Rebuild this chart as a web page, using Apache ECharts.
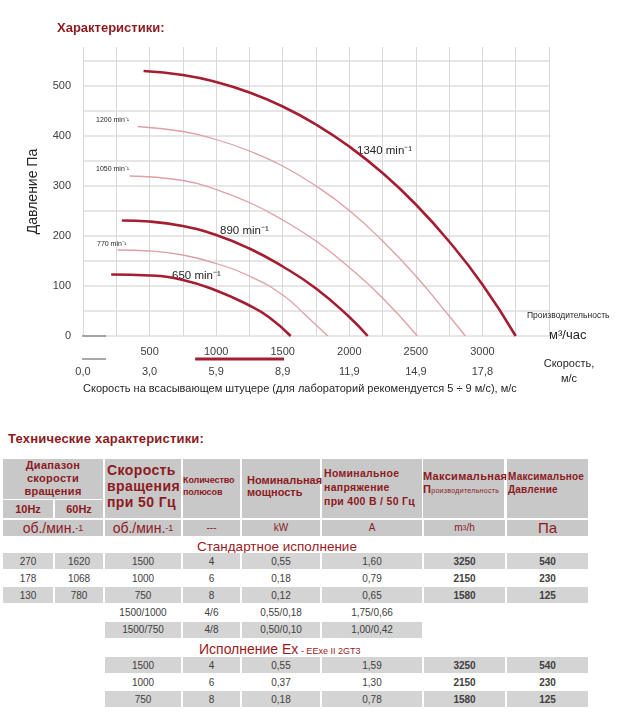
<!DOCTYPE html>
<html><head><meta charset="utf-8">
<script src="https://cdn.jsdelivr.net/npm/echarts@6/dist/echarts.min.js"></script>
<style>
html,body{margin:0;padding:0;background:#fff;width:640px;height:724px;overflow:hidden;font-family:"Liberation Sans",Arial,sans-serif}
#chart{position:absolute;left:0;top:0;width:640px;height:400px}
.c{position:absolute;box-sizing:border-box;overflow:visible;white-space:nowrap}
.t{position:absolute;white-space:nowrap}
</style>
</head><body>
<div id="chart"></div>
<div id="tbl"></div>
<script>
// ---------- chart data ----------
const flowLabels = [500, 1000, 1500, 2000, 2500, 3000];
const speedLabels = ['0,0', '3,0', '5,9', '8,9', '11,9', '14,9', '17,8'];
const recommendedFlow = [842, 1510]; // 5 ÷ 9 m/s

const q1340 = [455, 750, 1000, 1250, 1500, 1750, 2000, 2250, 2500, 2750, 3000, 3250];
const p1340 = [530, 522, 508, 487, 459, 423, 379, 326, 263, 189, 103, 0];
const q1200 = [410, 750, 1000, 1250, 1500, 1750, 2000, 2250, 2500, 2750, 2872];
const p1200 = [419, 409, 393, 370, 340, 300, 251, 190, 120, 40, 0];
const q1050 = [350, 750, 1000, 1250, 1500, 1750, 2000, 2250, 2512];
const p1050 = [320, 311, 293, 267, 232, 190, 137, 76, 0];
const q890 = [292, 500, 750, 1000, 1250, 1500, 1750, 2000, 2138];
const p890 = [231, 229, 220, 202, 175, 139, 95, 38, 0];
const q770 = [260, 500, 750, 1000, 1250, 1500, 1670, 1838];
const p770 = [172, 170, 162, 145, 120, 82, 42, 0];
const q650 = [212, 500, 750, 1000, 1250, 1400, 1560];
const p650 = [123, 121, 112, 91, 61, 37, 0];

// ---------- table data ----------
const stdRange10 = ['270', '178', '130'];
const stdRange60 = ['1620', '1068', '780'];
const stdSpeed = ['1500', '1000', '750', '1500/1000', '1500/750'];
const stdPoles = ['4', '6', '8', '4/6', '4/8'];
const stdPower = ['0,55', '0,18', '0,12', '0,55/0,18', '0,50/0,10'];
const stdCurrent = ['1,60', '0,79', '0,65', '1,75/0,66', '1,00/0,42'];
const stdFlow = ['3250', '2150', '1580'];
const stdPress = ['540', '230', '125'];
const exSpeed = ['1500', '1000', '750'];
const exPoles = ['4', '6', '8'];
const exPower = ['0,55', '0,37', '0,18'];
const exCurrent = ['1,59', '1,30', '0,78'];
const exFlow = ['3250', '2150', '1580'];
const exPress = ['540', '230', '125'];

const THICK = '#A51D31', THIN = '#DE9FA5', RED = '#8C1A1E', TXT = '#404040';
const FONT = '"Liberation Sans", Arial, sans-serif';

function pairs(q, p) { return q.map((v, i) => [v, p[i]]); }
const curves = [
  { q: q1200, p: p1200, c: THIN, w: 1.3 },
  { q: q1050, p: p1050, c: THIN, w: 1.3 },
  { q: q770, p: p770, c: THIN, w: 1.3 },
  { q: q1340, p: p1340, c: THICK, w: 2.6 },
  { q: q890, p: p890, c: THICK, w: 2.6 },
  { q: q650, p: p650, c: THICK, w: 2.6 }
];

const chart = echarts.init(document.getElementById('chart'));
chart.setOption({
  animation: false,
  grid: { left: 83, top: 47, width: 466, height: 289 },
  xAxis: [{
    type: 'value', min: 0, max: 3500, interval: 250,
    axisLine: { show: false }, axisTick: { show: false },
    axisLabel: { formatter: v => flowLabels.includes(v) ? String(v) : '', margin: 10, color: TXT, fontSize: 11, fontFamily: FONT },
    splitLine: { show: true, lineStyle: { color: '#d9d9d9', width: 1 } }
  }, {
    type: 'value', min: 0, max: 3500, interval: 500, position: 'bottom', offset: 20,
    axisLine: { show: false }, axisTick: { show: false },
    axisLabel: { formatter: v => speedLabels[v / 500] || '', margin: 10, color: TXT, fontSize: 11, fontFamily: FONT },
    splitLine: { show: false }
  }],
  yAxis: {
    type: 'value', min: 0, max: 578, interval: 50,
    name: 'Давление Па', nameLocation: 'middle', nameGap: 43, nameRotate: 90,
    nameTextStyle: { fontSize: 14, color: '#262626', fontFamily: FONT },
    axisLine: { show: false }, axisTick: { show: false },
    axisLabel: { formatter: v => (v % 100 === 0 && v <= 500) ? String(v) : '', margin: 12, color: TXT, fontSize: 11, fontFamily: FONT },
    splitLine: { show: true, showMaxLine: false, lineStyle: { color: '#e6e6e6', width: 2 } }
  },
  series: curves.map(s => ({
    type: 'line', data: pairs(s.q, s.p), smooth: 0.5, symbol: 'none',
    lineStyle: { color: s.c, width: s.w }, xAxisIndex: 0
  }))
});

const x0 = chart.convertToPixel({ xAxisIndex: 0 }, recommendedFlow[0]);
const x1 = chart.convertToPixel({ xAxisIndex: 0 }, recommendedFlow[1]);
function txt(text, x, y, size, opts) {
  return { type: 'text', style: Object.assign({ text: text, x: x, y: y, fill: '#262626', font: size + 'px ' + FONT, verticalAlign: 'middle', align: 'left' }, opts || {}) };
}
chart.setOption({
  graphic: [
    txt('Характеристики:', 57, 28, 13, { fill: RED, font: 'bold 13px ' + FONT }),
    txt('1200 min⁻¹', 96, 120, 7),
    txt('1050 min⁻¹', 96, 169, 7),
    txt('770 min⁻¹', 97, 244, 7),
    txt('890 min⁻¹', 220, 231, 11.5),
    txt('650 min⁻¹', 172, 276, 11.5),
    txt('1340 min⁻¹', 357, 151, 11.5),
    txt('Производительность', 527, 316, 8.5),
    txt('м³/час', 549, 335, 13),
    txt('Скорость,', 569, 364, 11, { align: 'center' }),
    txt('м/с', 569, 379, 11, { align: 'center' }),
    txt('Скорость на всасывающем штуцере (для лабораторий рекомендуется 5 ÷ 9 м/с), м/с', 83, 389, 11),
    { type: 'line', shape: { x1: 82, y1: 336, x2: 106, y2: 336 }, style: { stroke: '#8c8c8c', lineWidth: 1.5 } },
    { type: 'line', shape: { x1: 82, y1: 359, x2: 106, y2: 359 }, style: { stroke: '#8c8c8c', lineWidth: 1.5 } },
    { type: 'line', shape: { x1: x0, y1: 359, x2: x1, y2: 359 }, style: { stroke: THICK, lineWidth: 3 } }
  ]
});

// ---------- table ----------
const tbl = document.getElementById('tbl');
const COLS = [3, 55, 105, 183, 242, 322, 424, 507, 590];
function cell(c0, c1, y0, y1, bg, html, style) {
  const d = document.createElement('div');
  d.className = 'c';
  d.style.left = COLS[c0] + 'px';
  d.style.top = y0 + 'px';
  d.style.width = (COLS[c1] - COLS[c0] - 2) + 'px';
  d.style.height = (y1 - y0 - 1.5) + 'px';
  if (bg) d.style.background = bg;
  d.innerHTML = html || '';
  d.style.cssText += ';' + (style || '');
  tbl.appendChild(d);
  return d;
}
function text(x, y, html, style) {
  const d = document.createElement('div');
  d.className = 't';
  d.style.left = x + 'px';
  d.style.top = y + 'px';
  d.innerHTML = html;
  d.style.cssText += ';' + (style || '');
  tbl.appendChild(d);
}
const HG = '#c8c8c8', DG = '#d4d4d4';
const hdr = 'color:' + RED + ';font-weight:bold;';
const flexC = 'display:flex;align-items:center;justify-content:center;text-align:center;';

text(8, 431, 'Технические характеристики:', 'color:' + RED + ';font:bold 13px ' + FONT + ';letter-spacing:0.2px');

cell(0, 2, 459, 500, HG, 'Диапазон<br>скорости<br>вращения', hdr + flexC + 'font-size:11px;line-height:13px;letter-spacing:0.3px');
cell(0, 1, 500, 519.5, HG, '10Hz', hdr + flexC + 'font-size:11px');
cell(1, 2, 500, 519.5, HG, '60Hz', hdr + flexC + 'font-size:11px');
cell(2, 3, 459, 519.5, HG, 'Скорость<br>вращения<br>при 50 Гц', hdr + 'font-size:14px;line-height:16px;padding:3px 0 0 2px;letter-spacing:0.4px');
cell(3, 4, 459, 519.5, HG, 'Количество<br>полюсов', 'color:' + RED + ';font-size:9px;line-height:12px;padding:15px 0 0 0;font-weight:bold;letter-spacing:-0.1px');
cell(4, 5, 459, 519.5, HG, 'Номинальная<br>мощность', hdr + 'font-size:11px;line-height:12px;padding:15px 0 0 5px');
cell(5, 6, 459, 519.5, HG, 'Номинальное<br>напряжение<br>при 400 В / 50 Гц', hdr + 'font-size:10.5px;line-height:14px;padding:7px 0 0 2px;letter-spacing:0.3px');
cell(6, 7, 459, 519.5, HG, 'Максимальная<br><span style="font-size:11px">П</span><span style="font-size:7px;font-weight:normal">роизводительность</span>', hdr + 'font-size:11px;line-height:13px;padding:11px 0 0 0;margin-left:-1px;letter-spacing:0.3px');
cell(7, 8, 459, 519.5, HG, 'Максимальное<br>Давление', hdr + 'font-size:10px;line-height:13px;padding:11px 0 0 1px;letter-spacing:0.2px');

const unitStyle = 'color:' + RED + ';' + flexC;
cell(0, 2, 519.5, 537, HG, 'об./мин.<sup style="font-size:9px">-1</sup>', unitStyle + 'font-size:14px');
cell(2, 3, 519.5, 537, HG, 'об./мин.<sup style="font-size:9px">-1</sup>', unitStyle + 'font-size:14px');
cell(3, 4, 519.5, 537, HG, '---', unitStyle + 'font-size:10px');
cell(4, 5, 519.5, 537, HG, 'kW', unitStyle + 'font-size:10px');
cell(5, 6, 519.5, 537, HG, 'A', unitStyle + 'font-size:10px');
cell(6, 7, 519.5, 537, HG, 'm<sup style="font-size:7px">3</sup>/h', unitStyle + 'font-size:10px');
cell(7, 8, 519.5, 537, HG, 'Па', unitStyle + 'font-size:15px');

text(197, 539, 'Стандартное исполнение', 'color:#9A1B1E;font-size:13.5px');

const dataStyle = flexC + 'color:' + TXT + ';font-size:10px;';
const stdTops = [553, 570, 587, 604, 621.5];
for (let i = 0; i < 5; i++) {
  const y0 = stdTops[i], y1 = y0 + 17.5;
  const bg = (i % 2 === 0) ? DG : null;
  if (i < 3) {
    cell(0, 1, y0, y1, bg, stdRange10[i], dataStyle);
    cell(1, 2, y0, y1, bg, stdRange60[i], dataStyle);
  }
  cell(2, 3, y0, y1, bg, stdSpeed[i], dataStyle);
  cell(3, 4, y0, y1, bg, stdPoles[i], dataStyle);
  cell(4, 5, y0, y1, bg, stdPower[i], dataStyle);
  cell(5, 6, y0, y1, bg, stdCurrent[i], dataStyle);
  if (i < 3) {
    cell(6, 7, y0, y1, bg, stdFlow[i], dataStyle + 'font-weight:bold');
    cell(7, 8, y0, y1, bg, stdPress[i], dataStyle + 'font-weight:bold');
  }
}

text(199, 641, 'Исполнение Ex<span style="font-size:9px"> - EExe II 2GT3</span>', 'color:#9A1B1E;font-size:14px');

const exTops = [657, 674, 691];
for (let i = 0; i < 3; i++) {
  const y0 = exTops[i], y1 = y0 + 17.5;
  const bg = (i % 2 === 0) ? DG : null;
  cell(2, 3, y0, y1, bg, exSpeed[i], dataStyle);
  cell(3, 4, y0, y1, bg, exPoles[i], dataStyle);
  cell(4, 5, y0, y1, bg, exPower[i], dataStyle);
  cell(5, 6, y0, y1, bg, exCurrent[i], dataStyle);
  cell(6, 7, y0, y1, bg, exFlow[i], dataStyle + 'font-weight:bold');
  cell(7, 8, y0, y1, bg, exPress[i], dataStyle + 'font-weight:bold');
}
</script>
</body></html>
